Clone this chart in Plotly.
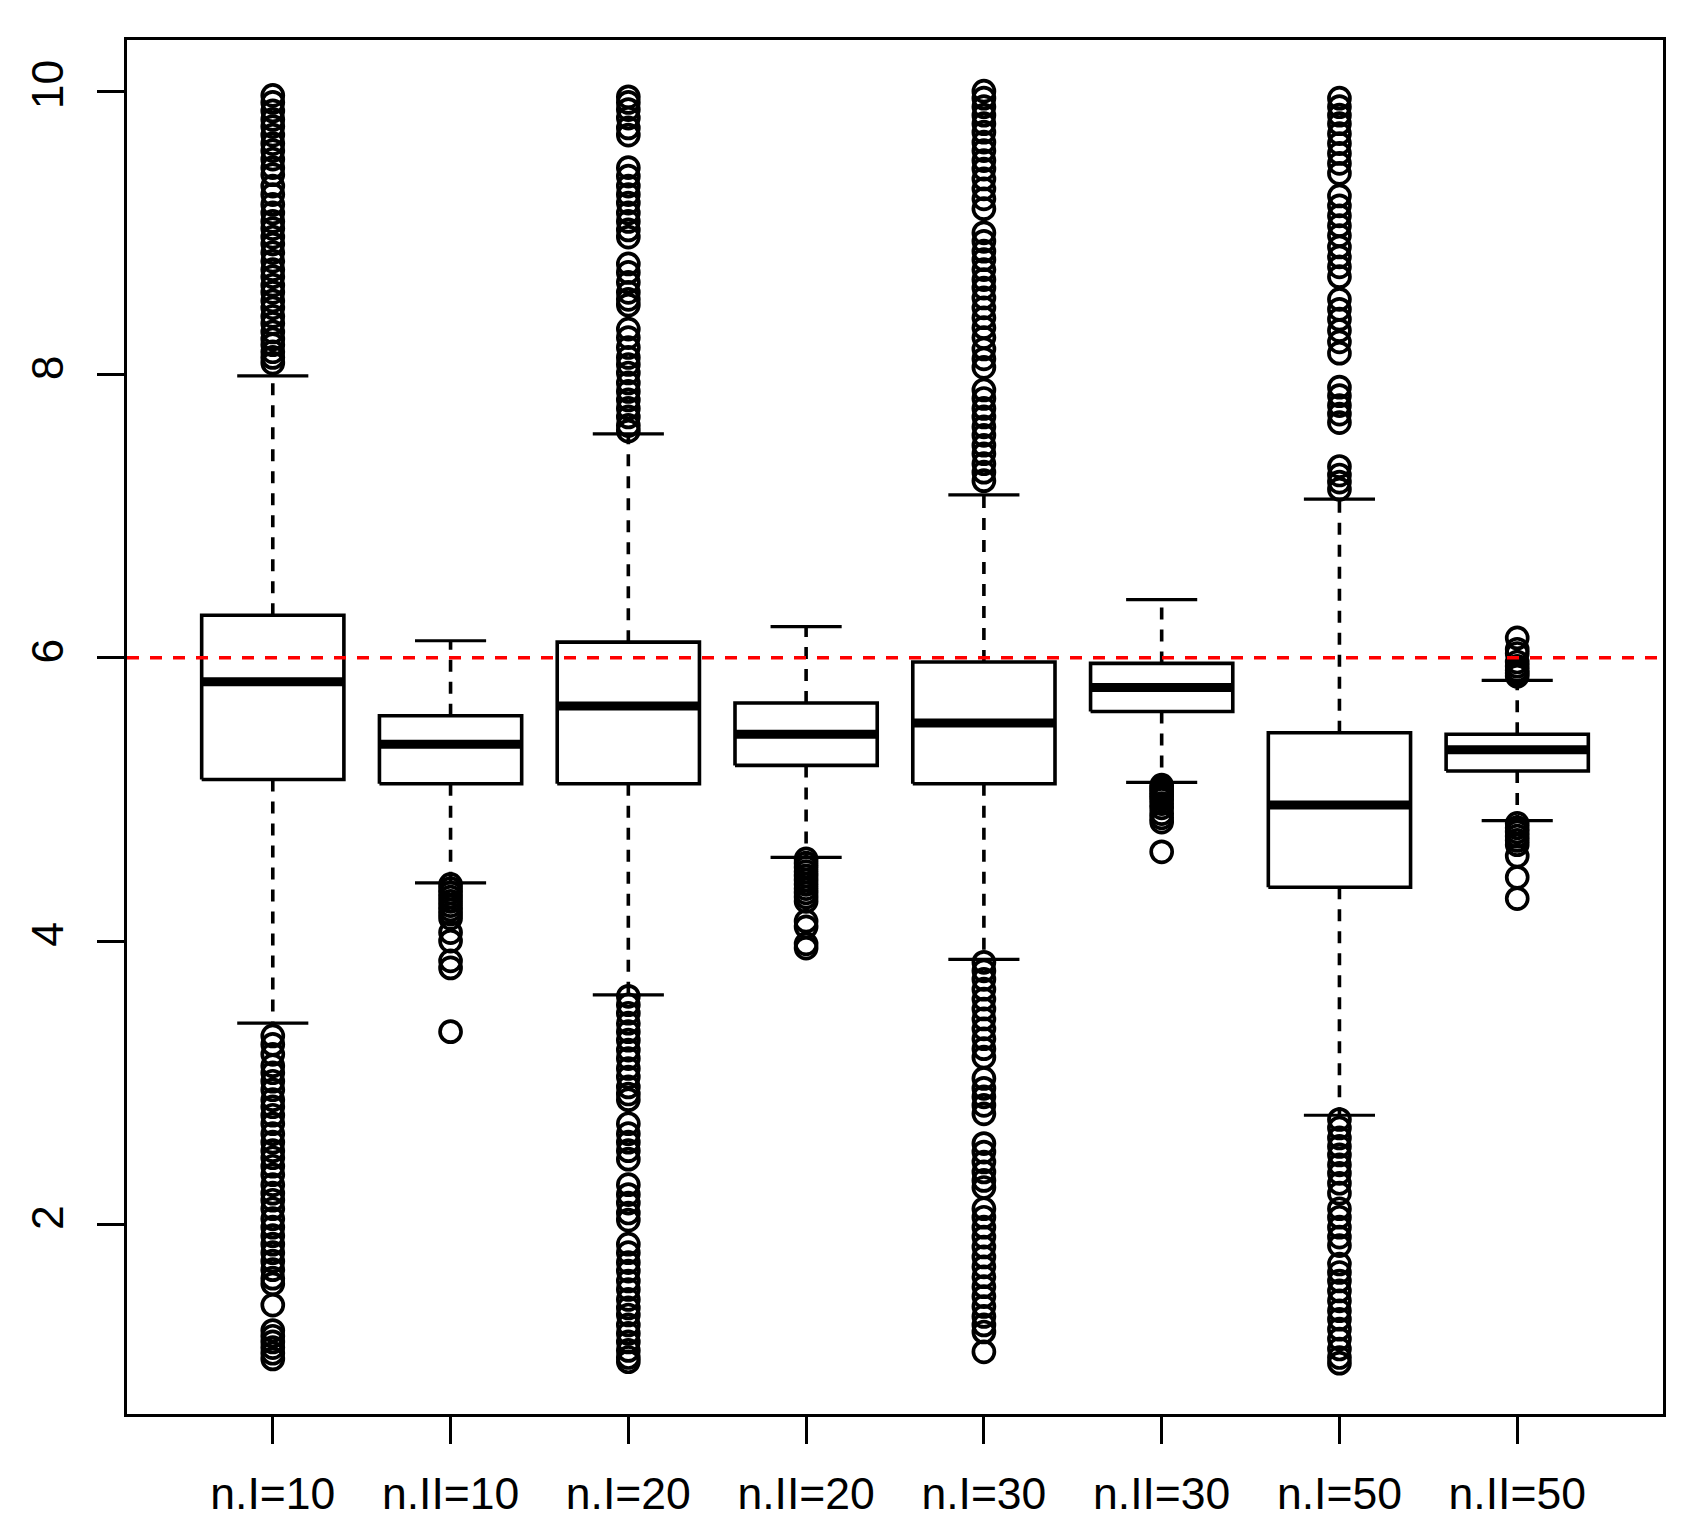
import plotly.graph_objects as go

# ---------------- data ----------------
categories = ["n.I=10", "n.II=10", "n.I=20", "n.II=20",
              "n.I=30", "n.II=30", "n.I=50", "n.II=50"]

q1 = [5.14, 5.11, 5.11, 5.24, 5.11, 5.62, 4.38, 5.20]
median = [5.83, 5.39, 5.66, 5.46, 5.54, 5.79, 4.96, 5.35]
q3 = [6.30, 5.59, 6.11, 5.68, 5.97, 5.96, 5.47, 5.46]
upper_whisker = [7.99, 6.12, 7.58, 6.22, 7.15, 6.41, 7.12, 5.84]
lower_whisker = [3.42, 4.41, 3.62, 4.59, 3.87, 5.12, 2.77, 4.85]

out_nI10 = [9.97, 9.92, 9.86, 9.80, 9.75, 9.69, 9.63, 9.58, 9.52, 9.46, 9.41, 9.33,
            9.27, 9.20, 9.14, 9.08, 9.03, 8.97, 8.92, 8.86, 8.80, 8.74, 8.69, 8.63,
            8.58, 8.52, 8.47, 8.41, 8.36, 8.30, 8.25, 8.21, 8.16, 8.12, 8.08,
            3.33, 3.27, 3.20, 3.12, 3.07, 3.01, 2.95, 2.88, 2.83, 2.77, 2.71, 2.64,
            2.58, 2.52, 2.47, 2.41, 2.35, 2.28, 2.22, 2.17, 2.11, 2.04, 1.98, 1.92,
            1.86, 1.80, 1.74, 1.68, 1.62, 1.58, 1.43, 1.25, 1.21, 1.17, 1.13, 1.09, 1.05]
out_nII10 = [4.40, 4.37, 4.34, 4.31, 4.28, 4.25, 4.22, 4.19, 4.16, 4.06, 4.00,
             3.86, 3.81, 3.36]
out_nI20 = [9.96, 9.92, 9.87, 9.81, 9.74, 9.69, 9.46, 9.40, 9.33, 9.27, 9.21, 9.14,
            9.08, 9.02, 8.97, 8.78, 8.72, 8.65, 8.58, 8.53, 8.49, 8.32, 8.26, 8.19,
            8.12, 8.07, 8.01, 7.94, 7.88, 7.82, 7.76, 7.70, 7.64, 7.60,
            3.61, 3.55, 3.49, 3.42, 3.36, 3.30, 3.23, 3.17, 3.10, 3.04, 2.97, 2.92,
            2.88, 2.71, 2.64, 2.58, 2.52, 2.46, 2.28, 2.21, 2.15, 2.08, 2.03, 1.86,
            1.80, 1.73, 1.67, 1.60, 1.54, 1.47, 1.41, 1.36, 1.29, 1.23, 1.17, 1.11,
            1.06, 1.03]
out_nII20 = [4.58, 4.55, 4.52, 4.49, 4.46, 4.43, 4.40, 4.37, 4.34, 4.31, 4.28,
             4.14, 4.10, 3.98, 3.95]
out_nI30 = [10.00, 9.95, 9.89, 9.83, 9.77, 9.71, 9.64, 9.58, 9.51, 9.45, 9.38, 9.31,
            9.24, 9.17, 9.00, 8.94, 8.87, 8.81, 8.74, 8.67, 8.61, 8.54, 8.47, 8.40,
            8.33, 8.26, 8.18, 8.11, 8.05, 7.89, 7.83, 7.76, 7.70, 7.63, 7.57, 7.50,
            7.44, 7.37, 7.31, 7.25,
            3.85, 3.79, 3.73, 3.66, 3.59, 3.52, 3.45, 3.38, 3.31, 3.24, 3.18, 3.03,
            2.96, 2.90, 2.84, 2.78, 2.57, 2.51, 2.44, 2.37, 2.31, 2.26, 2.11, 2.05,
            1.98, 1.91, 1.84, 1.77, 1.70, 1.63, 1.56, 1.49, 1.42, 1.35, 1.29, 1.24,
            1.10]
out_nII30 = [5.10, 5.08, 5.06, 5.04, 5.02, 5.00, 4.97, 4.94, 4.90, 4.87, 4.84, 4.63]
out_nI50 = [9.95, 9.89, 9.83, 9.77, 9.70, 9.63, 9.56, 9.49, 9.42, 9.26, 9.19, 9.12,
            9.05, 8.98, 8.90, 8.83, 8.76, 8.69, 8.53, 8.46, 8.39, 8.31, 8.23, 8.15,
            7.91, 7.85, 7.78, 7.72, 7.66, 7.35, 7.29, 7.24, 7.19,
            2.74, 2.68, 2.61, 2.55, 2.49, 2.42, 2.36, 2.29, 2.22, 2.11, 2.05, 1.98,
            1.91, 1.85, 1.72, 1.66, 1.60, 1.53, 1.46, 1.39, 1.33, 1.26, 1.19, 1.12,
            1.06, 1.02]
out_nII50 = [6.14, 6.06, 6.03, 5.97, 5.94, 5.91, 5.89, 5.87,
             4.83, 4.80, 4.77, 4.74, 4.71, 4.68, 4.60, 4.45, 4.30]
outliers = [out_nI10, out_nII10, out_nI20, out_nII20,
            out_nI30, out_nII30, out_nI50, out_nII50]

reference_value = 6
y_ticks = [2, 4, 6, 8, 10]

# ---------------- styling ----------------
BOX_HALF = 0.4
CAP_HALF = 0.2
LW = 3.6
FONT = "Liberation Sans, Arial, Helvetica, sans-serif"

positions = list(range(1, len(categories) + 1))

bx, by, mx, my, wx, wy, cx, cy, ox, oy = ([] for _ in range(10))
for i, x in enumerate(positions):
    bx += [x - BOX_HALF, x + BOX_HALF, x + BOX_HALF, x - BOX_HALF, x - BOX_HALF, None]
    by += [q1[i], q1[i], q3[i], q3[i], q1[i], None]
    mx += [x - BOX_HALF, x + BOX_HALF, None]
    my += [median[i], median[i], None]
    wx += [x, x, None, x, x, None]
    wy += [q3[i], upper_whisker[i], None, q1[i], lower_whisker[i], None]
    cx += [x - CAP_HALF, x + CAP_HALF, None, x - CAP_HALF, x + CAP_HALF, None]
    cy += [upper_whisker[i], upper_whisker[i], None, lower_whisker[i], lower_whisker[i], None]
    ox += [x] * len(outliers[i])
    oy += outliers[i]

fig = go.Figure()
fig.add_trace(go.Scatter(x=wx, y=wy, mode="lines",
                         line=dict(color="black", width=LW, dash="12px,10px"),
                         hoverinfo="skip", showlegend=False))
fig.add_trace(go.Scatter(x=cx, y=cy, mode="lines",
                         line=dict(color="black", width=3.2),
                         hoverinfo="skip", showlegend=False))
fig.add_trace(go.Scatter(x=bx, y=by, mode="lines",
                         line=dict(color="black", width=LW),
                         hoverinfo="skip", showlegend=False))
fig.add_trace(go.Scatter(x=mx, y=my, mode="lines",
                         line=dict(color="black", width=9),
                         hoverinfo="skip", showlegend=False))
fig.add_trace(go.Scatter(x=ox, y=oy, mode="markers",
                         marker=dict(symbol="circle-open", size=21, color="black",
                                     line=dict(width=3.7, color="black")),
                         showlegend=False))

fig.add_shape(type="line", xref="paper", x0=0, x1=1, yref="y",
              y0=reference_value, y1=reference_value,
              line=dict(color="#FF0000", width=3.6, dash="12px,11px"), layer="above")

axis_common = dict(showgrid=False, zeroline=False, showline=True, mirror=True,
                   linecolor="black", linewidth=3.3, ticks="outside", ticklen=27,
                   tickwidth=3.3, tickcolor="black",
                   tickfont=dict(family=FONT, size=44.5, color="black"))

fig.update_xaxes(range=[0.18, 8.82], tickmode="array", tickvals=positions,
                 ticktext=categories, ticklabelstandoff=11, **axis_common)
fig.update_yaxes(range=[0.661, 10.361], tickmode="array", tickvals=y_ticks,
                 ticktext=[str(v) for v in y_ticks], tickangle=-90,
                 ticklabelstandoff=16, **axis_common)

fig.update_layout(width=1700, height=1536,
                  margin=dict(l=127, r=37, t=40, b=122, pad=0),
                  plot_bgcolor="white", paper_bgcolor="white",
                  font=dict(family=FONT, color="black"))

fig.write_html("out.html", config={"displayModeBar": False},
               post_script="document.body.style.margin='0';")
